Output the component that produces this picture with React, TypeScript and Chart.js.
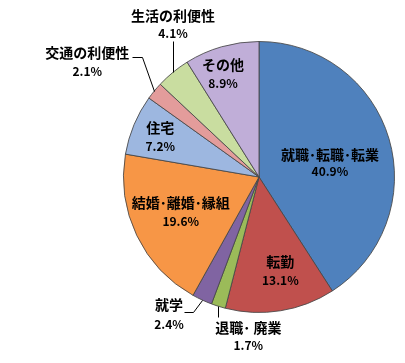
import React, { useEffect, useRef } from "react";
import { Chart, registerables } from "chart.js";

Chart.register(...registerables);

const categories = [
  "就職･転職･転業",
  "転勤",
  "退職･ 廃業",
  "就学",
  "結婚･離婚･縁組",
  "住宅",
  "交通の利便性",
  "生活の利便性",
  "その他",
];
const shares = [40.9, 13.1, 1.7, 2.4, 19.6, 7.2, 2.1, 4.1, 8.9];
const sliceColors = [
  "#4F81BD",
  "#C0504D",
  "#9BBB59",
  "#8064A2",
  "#F79646",
  "#9DB7E0",
  "#E39C9B",
  "#C9DDA0",
  "#C0AED8",
];

type LabelLayout =
  | { mode: "in"; k: number; dx: number; dy: number; gap: number }
  | { mode: "out"; leader: number[][]; tx: number; ty: number; gap: number };

const labelLayout: LabelLayout[] = [
  { mode: "in", k: 0.53, dx: 2, dy: 6, gap: 17 },
  { mode: "in", k: 0.71, dx: 6, dy: -1, gap: 19 },
  { mode: "out", leader: [[0, 11]], tx: 30, ty: 30, gap: 18 },
  { mode: "out", leader: [[-9, 12], [-18, 12]], tx: -33, ty: 14.5, gap: 20 },
  { mode: "in", k: 0.64, dx: 0, dy: -2, gap: 19 },
  { mode: "in", k: 0.79, dx: 0, dy: 1.5, gap: 19 },
  { mode: "out", leader: [[-12, -34], [-22, -34]], tx: -67, ty: -29, gap: 19 },
  { mode: "out", leader: [[0, -31]], tx: 0, ty: -48, gap: 18 },
  { mode: "in", k: 0.8, dx: -6, dy: 1.6, gap: 19 },
];

const FONT = '"Noto Sans CJK JP", "Noto Sans", sans-serif';

const labelPlugin = {
  id: "sliceLabels",
  afterDatasetsDraw(chart: any) {
    const ctx = chart.ctx as CanvasRenderingContext2D;
    const meta = chart.getDatasetMeta(0);
    meta.data.forEach((arc: any, i: number) => {
      const p = arc.getProps(["x", "y", "startAngle", "endAngle", "outerRadius"], true);
      const mid = (p.startAngle + p.endAngle) / 2;
      const cos = Math.cos(mid);
      const sin = Math.sin(mid);
      const lay = labelLayout[i];
      let cx: number;
      let cy: number;
      ctx.save();
      if (lay.mode === "in") {
        cx = p.x + cos * p.outerRadius * lay.k + lay.dx;
        cy = p.y + sin * p.outerRadius * lay.k + lay.dy;
      } else {
        const ex = p.x + cos * p.outerRadius;
        const ey = p.y + sin * p.outerRadius;
        ctx.strokeStyle = "#000";
        ctx.lineWidth = 1;
        ctx.beginPath();
        ctx.moveTo(Math.round(ex) + 0.5, Math.round(ey) + 0.5);
        lay.leader.forEach((pt) => {
          ctx.lineTo(Math.round(ex + pt[0]) + 0.5, Math.round(ey + pt[1]) + 0.5);
        });
        ctx.stroke();
        cx = ex + lay.tx;
        cy = ey + lay.ty;
      }
      ctx.fillStyle = "#000";
      ctx.textAlign = "center";
      ctx.textBaseline = "middle";
      ctx.font = `bold 14px ${FONT}`;
      ctx.fillText(categories[i], cx, cy - lay.gap / 2);
      ctx.font = `bold 12px ${FONT}`;
      ctx.fillText(`${shares[i].toFixed(1)}%`, cx, cy + lay.gap / 2);
      ctx.restore();
    });
  },
};

export default function App() {
  const ref = useRef<HTMLCanvasElement | null>(null);
  useEffect(() => {
    if (!ref.current) return;
    const chart = new Chart(ref.current, {
      type: "pie",
      data: {
        labels: categories,
        datasets: [
          {
            data: shares,
            backgroundColor: sliceColors,
            borderColor: "rgba(70,70,70,0.85)",
            borderWidth: 1,
          },
        ],
      },
      options: {
        responsive: false,
        animation: false,
        layout: { padding: { left: 123, right: 10, top: 41, bottom: 50 } },
        plugins: {
          legend: { display: false },
          tooltip: { enabled: false },
        },
      },
      plugins: [labelPlugin],
    });
    return () => chart.destroy();
  }, []);
  return (
    <div style={{ position: "absolute", left: 0, top: 0, width: 405, height: 363, background: "#fff" }}>
      <canvas ref={ref} width={405} height={363} style={{ width: 405, height: 363 }} />
    </div>
  );
}
